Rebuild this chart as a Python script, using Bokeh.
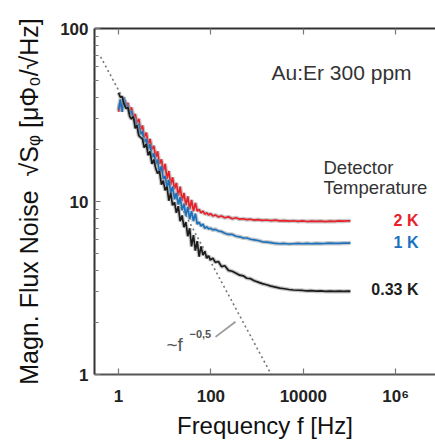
from bokeh.plotting import figure
from bokeh.models import FixedTicker, LogAxis, Label, ColumnDataSource, Range1d, CustomJSTickFormatter
from bokeh.embed import file_html
from bokeh.resources import INLINE

# ---------------- data ----------------
freq_hz = [1.0, 1.1, 1.2, 1.3, 1.45, 1.6, 1.75, 1.9, 2.1, 2.3, 2.5, 2.75, 3.0, 3.3, 3.6,
           4.0, 4.4, 4.8, 5.3, 5.8, 6.4, 7.0, 7.7, 8.5, 9.3, 10.2, 11.2, 12.3, 13.5, 14.8,
           16.3, 17.9, 19.7, 21.6, 23.8, 26.1, 28.7, 31.6, 34.7, 38.1, 41.9, 46.1, 50.6,
           55.6, 61.1, 67.2, 73.8, 81.1, 89.2, 98, 110, 125, 145, 170, 200, 240, 290, 350,
           420, 500, 600, 720, 870, 1050, 1300, 1600, 2000, 2500, 3100, 3900, 4900, 6100,
           7700, 9700, 12000, 15000, 19000, 24000, 30000, 38000, 48000, 60000, 75000,
           95000, 105000]

noise_033K = [42.5, 40, 40.5, 37, 34.5, 35, 31, 30, 31, 26.5, 27.5, 24, 23.5, 23, 20.5,
              21.5, 18.5, 19.5, 16.5, 17.5, 15.5, 14.5, 15, 12.5, 13.2, 11.6, 12.2, 10.1, 11.2, 9.5,
              9.9, 8.6, 9.4, 7.7, 8.3, 7.1, 7.6, 6.3, 7.0, 5.5, 6.4, 5.2, 5.9,
              4.8, 5.5, 4.9, 5.15, 4.7, 4.85, 4.6, 4.7, 4.45, 4.5, 4.2, 4.25, 4.0, 3.95, 3.85,
              3.75, 3.72, 3.6, 3.58, 3.48, 3.42, 3.35, 3.3, 3.24, 3.2, 3.16, 3.13, 3.1, 3.08,
              3.07, 3.06, 3.04, 3.05, 3.03, 3.04, 3.02, 3.03, 3.02, 3.03, 3.02,
              3.03, 3.02]

noise_1K = [34, 39, 33, 40, 36, 35.5, 32, 33.5, 30, 29.5, 27, 28, 24.5, 25.5, 22,
            23, 20, 21.5, 18, 19, 16.5, 17.5, 14.5, 16, 13.5, 14, 12, 13.3, 11.2, 12.2,
            10.3, 11.2, 9.6, 10.6, 8.9, 9.7, 8.3, 9.3, 7.9, 8.8, 7.7, 8.5, 7.4,
            7.6, 7.2, 7.4, 7.0, 7.15, 6.95, 7.0, 6.85, 6.9, 6.75, 6.7, 6.55, 6.45, 6.45, 6.3,
            6.25, 6.15, 6.15, 6.05, 6.0, 5.95, 5.85, 5.82, 5.78, 5.72, 5.7, 5.72, 5.68, 5.7,
            5.72, 5.7, 5.72, 5.7, 5.73, 5.71, 5.72, 5.74, 5.72, 5.73, 5.74,
            5.75, 5.76]

noise_2K = [33, 37, 35, 39, 36.5, 37, 33, 35, 31, 32, 28.5, 30, 26, 27.5, 23.5,
            25, 21.5, 23, 20, 21, 18, 19.5, 16.5, 17.5, 15, 16.5, 13.5, 15, 12.5, 13.8,
            11.8, 12.8, 10.8, 12.2, 10.1, 11.2, 9.5, 10.7, 9.0, 10.2, 8.8, 9.8, 8.8,
            9.0, 8.6, 8.8, 8.45, 8.6, 8.35, 8.5, 8.25, 8.35, 8.15, 8.25, 8.05, 8.15, 7.95, 8.05,
            7.9, 7.95, 7.85, 7.9, 7.8, 7.85, 7.78, 7.82, 7.75, 7.8, 7.72, 7.76, 7.7, 7.74,
            7.68, 7.72, 7.66, 7.7, 7.68, 7.7, 7.66, 7.7, 7.68, 7.72, 7.7,
            7.74, 7.72]

fit_f = [0.41, 2500]          # ~f^-0.5 guide line
fit_y = [68.6, 0.9]
pointer_f = [126, 341]        # small pointer next to the "~f^-0.5" label
pointer_y = [1.65, 2.02]

x_ticks = [1, 100, 10000, 1000000]
x_tick_labels = ["1", "100", "10000", "10\u2076"]
y_ticks = [1, 10, 100]
y_tick_labels = ["1", "10", "100"]
y_minor = [2, 3, 4, 5, 6, 7, 8, 9, 20, 30, 40, 50, 60, 70, 80, 90]

series_names = ["2 K", "1 K", "0.33 K"]
series_colors = ["#e8202a", "#1a72bf", "#1c1c1c"]

x_title = "Frequency f [Hz]"
y_title = "Magn. Flux Noise\u00a0\u00a0\u221aS\u1d69 [\u03bc\u03a6\u2080/\u221aHz]"

# ---------------- layout helpers ----------------
W, H = 435, 441
FL, FR, FT, FB = 94, 435, 28, 375
X1_PX = 118.0                 # pixel of f = 1
PX_DEC_X = 46.2
PX_DEC_Y = (FB - FT) / 2.0


def dx(px):
    return 10 ** ((px - X1_PX) / PX_DEC_X)


def dy(py):
    return 10 ** ((FB - py) / PX_DEC_Y)


FONT = "Liberation Sans"

TICK_JS = """
for (let i = 0; i < vals.length; i++) {
    if (Math.abs(Math.log10(tick) - Math.log10(vals[i])) < 1e-6) { return labs[i]; }
}
return "";
"""

p = figure(width=W, height=H, x_axis_type="log", y_axis_type="log",
           x_range=Range1d(dx(FL), dx(FR)), y_range=Range1d(1, 100),
           output_backend="svg", toolbar_location=None,
           min_border_left=FL, min_border_right=W - FR, min_border_top=FT,
           min_border_bottom=H - FB)
p.outline_line_color = None
p.grid.visible = False
p.background_fill_color = "white"
p.border_fill_color = "white"

# axes
xa = p.xaxis[0]
xa.ticker = FixedTicker(ticks=x_ticks, minor_ticks=[])
xa.formatter = CustomJSTickFormatter(args=dict(vals=x_ticks, labs=x_tick_labels), code=TICK_JS)
ya = p.yaxis[0]
ya.ticker = FixedTicker(ticks=y_ticks, minor_ticks=y_minor)
ya.formatter = CustomJSTickFormatter(args=dict(vals=y_ticks, labs=y_tick_labels), code=TICK_JS)

top = LogAxis(ticker=FixedTicker(ticks=x_ticks, minor_ticks=[]),
              formatter=CustomJSTickFormatter(code="return '';"))
p.add_layout(top, "above")

for ax, lc in ((xa, "#555555"), (ya, "#333333"), (top, "#333333")):
    ax.axis_line_color = lc
    ax.axis_line_width = 2
    ax.major_tick_in = 6
    ax.major_tick_out = 0
    ax.minor_tick_in = 4
    ax.minor_tick_out = 0
    ax.major_tick_line_color = "#777777"
    ax.minor_tick_line_color = "#777777"
    ax.major_tick_line_width = 1.2
    ax.minor_tick_line_width = 1.2
for ax in (xa, ya):
    ax.major_label_text_font = FONT
    ax.major_label_text_font_style = "bold"
    ax.major_label_text_font_size = "17px"
    ax.major_label_text_color = "#222222"
    ax.axis_label_text_font = FONT
    ax.axis_label_text_font_style = "normal"
    ax.axis_label_text_color = "#111111"
xa.major_label_standoff = 12
ya.major_label_standoff = 6

xa.axis_label = x_title
xa.axis_label_text_font_size = "24px"
xa.axis_label_standoff = 3
ya.axis_label = y_title
ya.axis_label_text_font_size = "25px"
ya.axis_label_standoff = 14

# guide line
p.line(fit_f, fit_y, line_color="#777777", line_width=1.6, line_dash="2 3")
p.line(pointer_f, pointer_y, line_color="#9a9a9a", line_width=1.8)

# curves
src = ColumnDataSource(dict(f=freq_hz, k2=noise_2K, k1=noise_1K, k033=noise_033K))
for col, color in zip(["k2", "k1", "k033"], series_colors):
    p.line("f", col, source=src, line_color="#9a9a9a", line_alpha=0.55, line_width=4.2)
    p.line("f", col, source=src, line_color=color, line_width=1.7)


def add_label(text, px, py, size, color="#333333", style="normal", align="left",
              baseline="alphabetic"):
    p.add_layout(Label(x=dx(px), y=dy(py), text=text, text_font=FONT,
                       text_font_size=size, text_color=color, text_font_style=style,
                       text_align=align, text_baseline=baseline))


add_label("Au:Er 300 ppm", 271, 72.5, "21px")
add_label("Detector", 323, 167, "18.5px")
add_label("Temperature", 323, 187.5, "18.5px")
for name, color, py in zip(series_names, series_colors, [221, 243, 290]):
    add_label(name, 418, py, "16px", color=color, style="bold", align="right",
              baseline="middle")

add_label("~f", 166, 345, "19px", color="#555555")
add_label("\u22120,5", 189, 334, "11px", color="#555555", style="bold")

open("out.html", "w").write(file_html(p, INLINE))
